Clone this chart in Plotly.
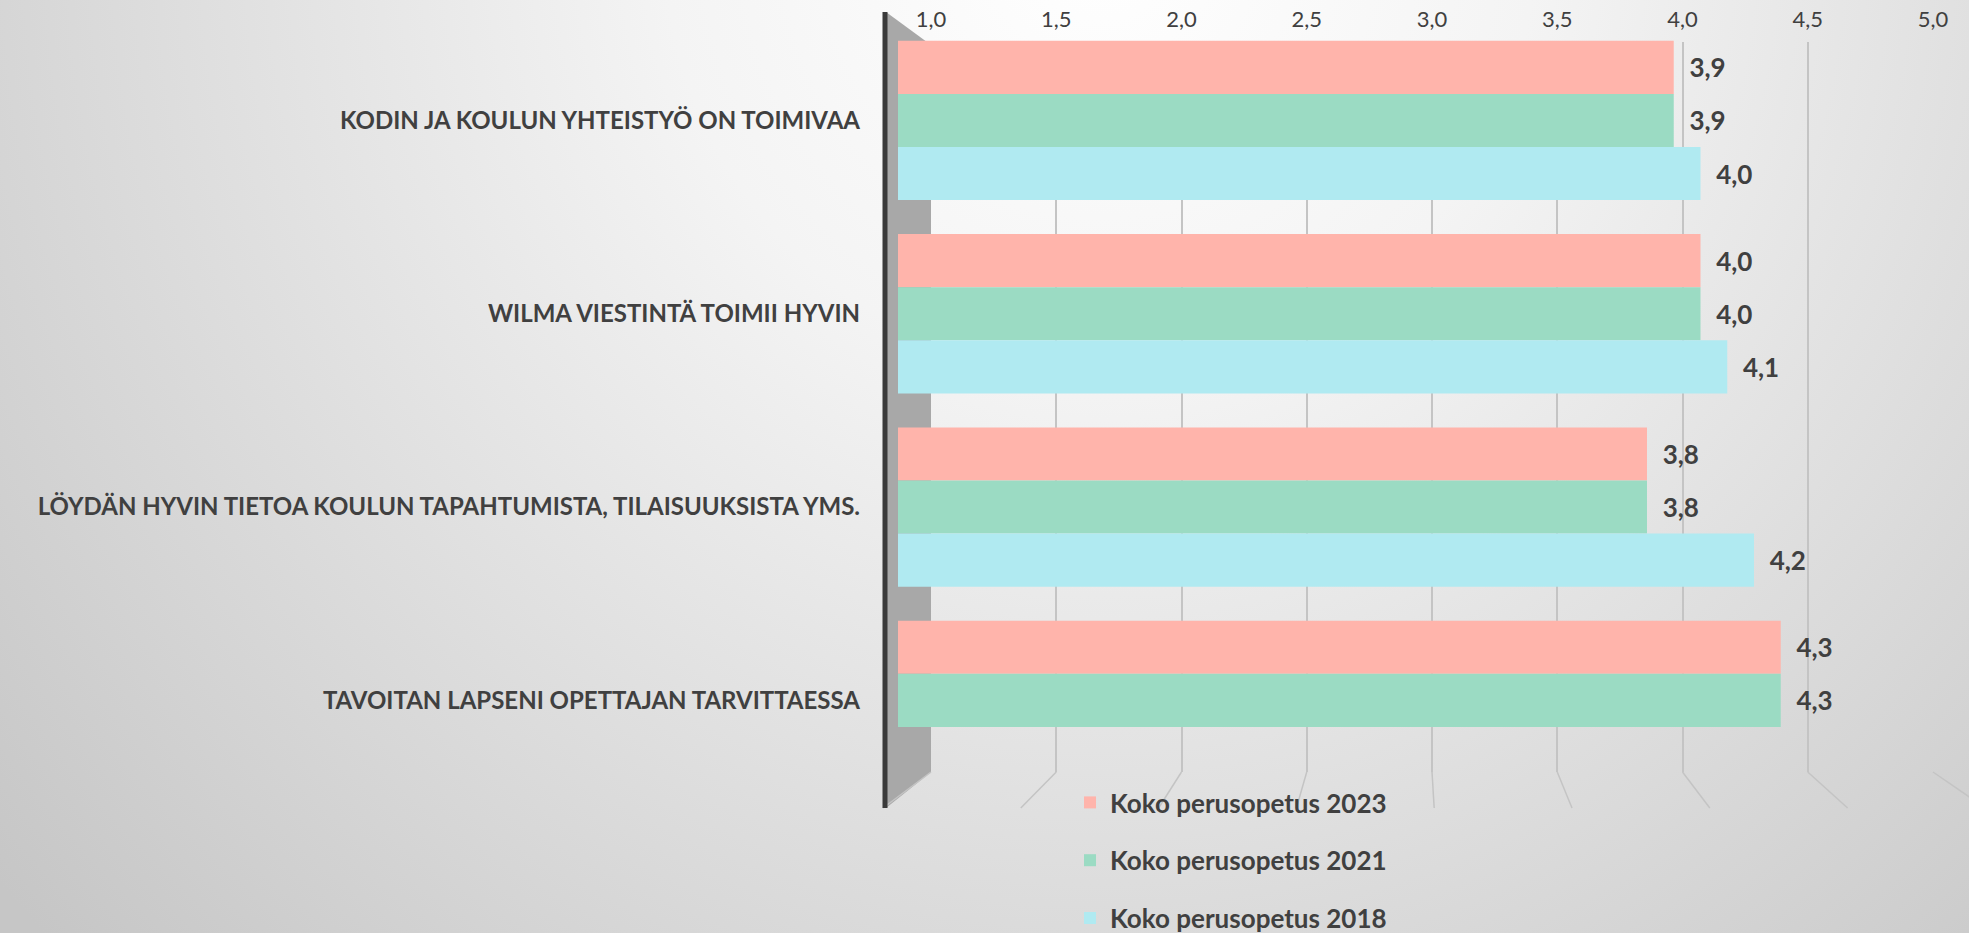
import base64
import plotly.graph_objects as go

# ---------------- data ----------------
categories = [
    "KODIN JA KOULUN YHTEISTYÖ ON TOIMIVAA",
    "WILMA VIESTINTÄ TOIMII HYVIN",
    "LÖYDÄN HYVIN TIETOA KOULUN TAPAHTUMISTA, TILAISUUKSISTA YMS.",
    "TAVOITAN LAPSENI OPETTAJAN TARVITTAESSA",
]
series_names = ["Koko perusopetus 2023", "Koko perusopetus 2021", "Koko perusopetus 2018"]
values_2023 = [3.9, 4.0, 3.8, 4.3]
values_2021 = [3.9, 4.0, 3.8, 4.3]
values_2018 = [4.0, 4.1, 4.2, None]
axis_ticks = [1.0, 1.5, 2.0, 2.5, 3.0, 3.5, 4.0, 4.5, 5.0]

# ---------------- style ----------------
W, H = 1969, 933
FONT = "Lato"
TXT = "#404040"
bar_colors = ["#ffb4ab", "#9bdbc3", "#b0eaf1"]
grid_color = "#c4c4c4"


def fx(p):
    return p / W


def fy(p):
    return 1 - p / H


# background gradient (decoration)
svg = (
    f'<svg xmlns="http://www.w3.org/2000/svg" width="{W}" height="{H}" '
    f'viewBox="0 0 {W} {H}" preserveAspectRatio="none">'
    '<defs><radialGradient id="g" gradientUnits="userSpaceOnUse" cx="1100" cy="-60" r="1450">'
    '<stop offset="0" stop-color="#ffffff"/>'
    '<stop offset="0.3" stop-color="#f4f4f4"/>'
    '<stop offset="1" stop-color="#c6c6c6"/>'
    '</radialGradient></defs>'
    f'<rect width="{W}" height="{H}" fill="url(#g)"/></svg>'
)
bg_src = "data:image/svg+xml;base64," + base64.b64encode(svg.encode()).decode()

fig = go.Figure()

# empty trace to create the back-wall subplot (grid + top tick labels)
fig.add_trace(go.Scatter(x=[], y=[], xaxis="x", yaxis="y", showlegend=False, hoverinfo="skip"))

all_values = [values_2023, values_2021, values_2018]
for name, vals, col in zip(series_names, all_values, bar_colors):
    fig.add_trace(
        go.Bar(
            name=name,
            y=categories,
            x=vals,
            orientation="h",
            xaxis="x2",
            yaxis="y2",
            marker=dict(color=col, line=dict(width=0)),
            texttemplate="\u00a0\u00a0%{x:.1f}",
            textposition="outside",
            textfont=dict(family=FONT, size=26, color=TXT, weight="bold"),
            constraintext="none",
            cliponaxis=False,
            legendgroup=name,
            hoverinfo="skip",
        )
    )

# back-wall positions (pixels) and front floor positions (pixels)
back_left, back_right = 931, 1933
front_left, front_unit = 883, 275.6
back_unit = (back_right - back_left) / 4.0

shapes = []
# left wall
shapes.append(dict(
    type="path", xref="paper", yref="paper",
    path=(f"M{fx(886)},{fy(12)} L{fx(back_left)},{fy(45)} L{fx(back_left)},{fy(772)} "
          f"L{fx(886)},{fy(808)} Z"),
    fillcolor="#a8a8a8", line=dict(width=0), layer="below",
))
# floor perspective lines
for v in axis_ticks:
    bx = back_left + (v - 1) * back_unit
    frx = front_left + (v - 1) * front_unit
    shapes.append(dict(
        type="line", xref="paper", yref="paper",
        x0=fx(bx), y0=fy(772), x1=fx(frx), y1=fy(808),
        line=dict(color=grid_color, width=1.5), layer="below",
    ))
# dark front edge of the wall
shapes.append(dict(
    type="line", xref="paper", yref="paper",
    x0=fx(885), x1=fx(885), y0=fy(12), y1=fy(808),
    line=dict(color="#3a3a3a", width=5), layer="above",
))

fig.update_layout(
    width=W,
    height=H,
    margin=dict(l=0, r=0, t=0, b=0, autoexpand=False),
    paper_bgcolor="#ffffff",
    plot_bgcolor="rgba(0,0,0,0)",
    separators=", ",
    font=dict(family=FONT, color=TXT),
    barmode="group",
    bargap=0.176,
    bargroupgap=0,
    images=[dict(source=bg_src, xref="paper", yref="paper", x=0, y=1, sizex=1, sizey=1,
                 xanchor="left", yanchor="top", sizing="stretch", layer="below")],
    shapes=shapes,
    xaxis=dict(
        domain=[fx(back_left), fx(back_right)],
        range=[1, 5],
        anchor="y",
        side="top",
        tickvals=axis_ticks,
        tickformat=".1f",
        ticks="outside",
        ticklen=5,
        tickcolor="rgba(0,0,0,0)",
        tickfont=dict(family=FONT, size=22, color=TXT),
        showgrid=True,
        gridcolor=grid_color,
        gridwidth=1.5,
        zeroline=False,
        showline=False,
        automargin=False,
        fixedrange=True,
    ),
    yaxis=dict(
        domain=[fy(772), fy(42)],
        range=[0, 1],
        anchor="x",
        visible=False,
        automargin=False,
        fixedrange=True,
    ),
    xaxis2=dict(
        domain=[fx(898), fx(1968)],
        range=[1, 5],
        anchor="y2",
        visible=False,
        showgrid=False,
        automargin=False,
        fixedrange=True,
    ),
    yaxis2=dict(
        domain=[fy(797), fy(35)],
        type="category",
        categoryorder="array",
        categoryarray=categories,
        range=[3.5, -0.442],
        anchor="x2",
        showgrid=False,
        zeroline=False,
        showline=False,
        ticks="",
        ticklabelstandoff=37,
        tickfont=dict(family=FONT, size=24, color=TXT, weight="bold"),
        automargin=False,
        fixedrange=True,
    ),
    legend=dict(
        x=fx(1070),
        y=fy(779),
        xanchor="left",
        yanchor="top",
        orientation="v",
        traceorder="grouped",
        tracegroupgap=21,
        bgcolor="rgba(0,0,0,0)",
        font=dict(family=FONT, size=26, color=TXT, weight="bold"),
    ),
    showlegend=True,
)

fig.write_html(
    "out.html",
    config={"displayModeBar": False},
    post_script="document.body.style.margin='0';document.body.style.overflow='hidden';",
)
